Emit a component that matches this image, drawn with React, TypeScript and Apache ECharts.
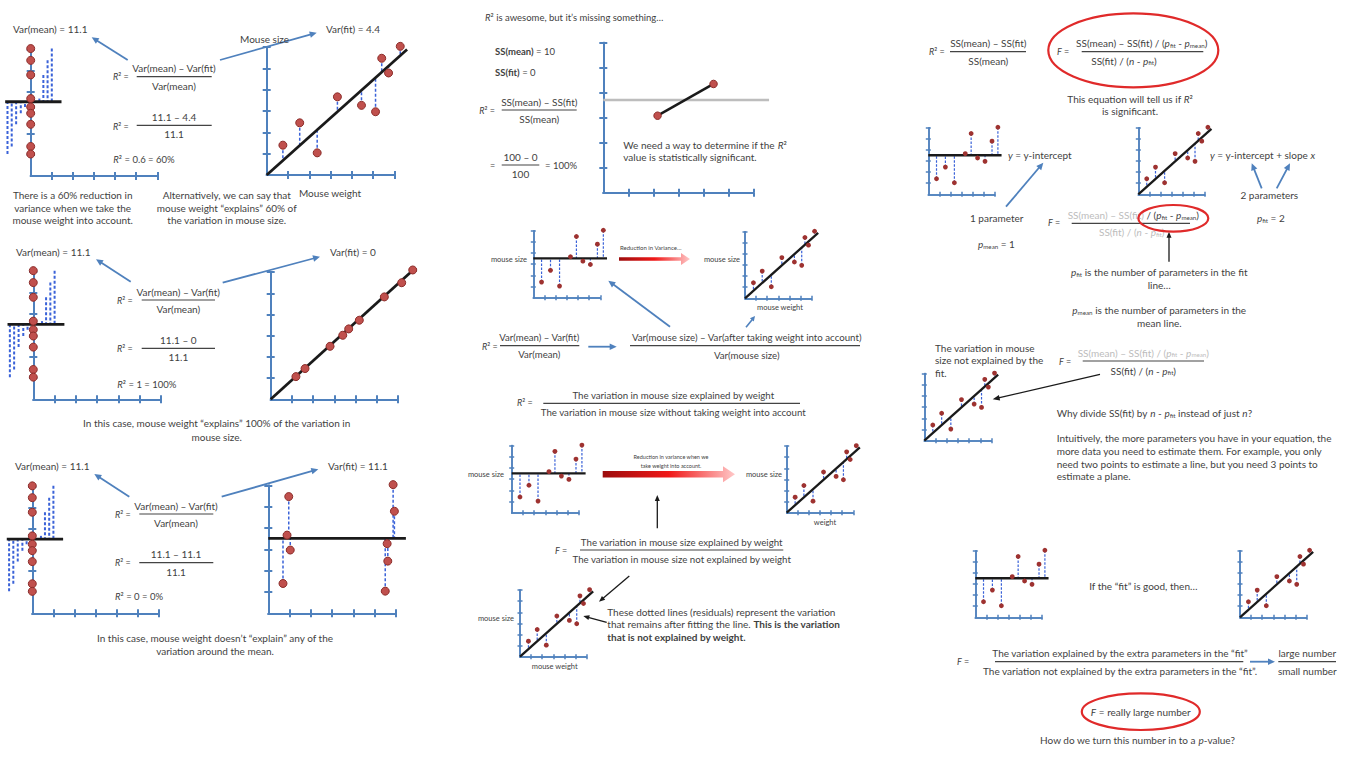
import React, { useEffect, useRef } from "react";
import * as echarts from "echarts";

// ---------------- DATA ----------------
const pointY = [1.40, 2.45, 1.04, 3.67, 5.48, 3.27, 2.97, 4.79, 6.04];
const meanPanelX = [0.74, 1.54, 2.35, 3.33, 3.86, 4.44, 5.11, 5.74, 6.27];
const fitPanelX = [0.76, 1.55, 2.37, 3.32, 5.40, 4.45, 5.11, 5.72, 6.27];
const perfectFitX = [1.62, 2.80, 1.19, 4.18, 6.18, 3.68, 3.40, 5.36, 6.70];
const perfectFitY = [1.45, 2.50, 1.07, 3.73, 5.50, 3.32, 3.02, 4.83, 6.10];
const noFitX = [0.69, 5.61, 5.49, 0.88, 0.96, 5.58, 1.03, 5.92, 5.86];
const varianceBarX = [-0.90, -0.69, -1.10, 0.41, 0.80, -0.27, -0.47, 0.60, 1.00];
const meanLevel = 3.52;
const meanLineX = [0, 6.6];
const noFitMeanLineX = [0, 6.46];
const varLineX = [-1.21, 1.46];
const fitLineEnd = [6.59, 5.89];
const perfectLineEnd = [6.72, 6.10];
const twoPointX = [2.17, 4.41];
const twoPointY = [3.08, 4.35];
const twoMeanLevel = 3.71;
const twoMeanLineX = [0, 6.63];
const tickValues = [1, 2, 3, 4, 5, 6];

// ---------------- LAYOUT ----------------
type Kind = "var" | "fit" | "perfect" | "nofit" | "mean" | "two";
interface Panel { kind: Kind; ox: number; oy: number; u: number; big?: boolean }
const panels: Panel[] = [
  { kind: "var", ox: 30.7, oy: 176, u: 21.1, big: true },
  { kind: "fit", ox: 266.7, oy: 175, u: 21.3, big: true },
  { kind: "var", ox: 33.3, oy: 399.3, u: 21.3, big: true },
  { kind: "perfect", ox: 270.7, oy: 399.3, u: 21.2, big: true },
  { kind: "var", ox: 32.3, oy: 613.3, u: 21.1, big: true },
  { kind: "nofit", ox: 268.3, oy: 613.3, u: 21.3, big: true },
  { kind: "two", ox: 603.3, oy: 192.7, u: 25, big: true },
  { kind: "mean", ox: 533.3, oy: 297.7, u: 11.17 },
  { kind: "fit", ox: 745, oy: 298.3, u: 11.1 },
  { kind: "mean", ox: 511.7, oy: 512.7, u: 11.2 },
  { kind: "fit", ox: 786.7, oy: 512.7, u: 11.1 },
  { kind: "fit", ox: 520, oy: 656.7, u: 11.1 },
  { kind: "mean", ox: 928.3, oy: 194.3, u: 11.1 },
  { kind: "fit", ox: 1138.3, oy: 194.3, u: 11.1 },
  { kind: "fit", ox: 924.3, oy: 440.7, u: 11.2 },
  { kind: "mean", ox: 975.3, oy: 617.3, u: 11.1 },
  { kind: "fit", ox: 1240, oy: 617.3, u: 11.1 },
];

const FONT = "Lato, 'Open Sans', sans-serif";
const TXT = "#3f3f3f";
const GRAY = "#bcbcbc";
const AXIS = "#4f81bd";
const BLUE = "#4f81bd";
const RES = "#3a62d8";
const RED = "#e02a2a";
const BLACK = "#1a1a1a";

function richFor(size: number) {
  const base = { fontSize: size, fontFamily: FONT, fill: TXT };
  const sub = { fontSize: size * 0.62, fontFamily: FONT, fill: TXT, verticalAlign: "bottom" };
  return {
    n: base,
    i: { ...base, fontStyle: "italic" },
    b: { ...base, fontWeight: "bold" },
    s: sub,
    g: { ...base, fill: GRAY },
    gi: { ...base, fill: GRAY, fontStyle: "italic" },
    gs: { ...sub, fill: GRAY },
  };
}

function T(text: string, x: number, y: number, size = 10, align = "left", fill = TXT): any {
  return {
    type: "text", x, y, z: 50, silent: true,
    style: { text, fontSize: size, fontFamily: FONT, fill, align, verticalAlign: "middle", rich: richFor(size) },
  };
}
function L(x1: number, y1: number, x2: number, y2: number, color = "#444", lw = 1.2): any {
  return { type: "line", z: 40, silent: true, shape: { x1, y1, x2, y2 }, style: { stroke: color, lineWidth: lw } };
}
function frac(cx: number, ly: number, x1: number, x2: number, num: string, den: string, size = 10, dcx?: number): any[] {
  return [
    T(num, cx, ly - 8.4, size, "center"),
    L(x1, ly, x2, ly),
    T(den, dcx ?? cx, ly + 9, size, "center"),
  ];
}
function arrow(x1: number, y1: number, x2: number, y2: number, color = BLUE, lw = 1.8, hl = 7, hw = 6.5): any[] {
  const dx = x2 - x1, dy = y2 - y1, len = Math.hypot(dx, dy);
  const ux = dx / len, uy = dy / len;
  const bx = x2 - ux * hl, by = y2 - uy * hl;
  const px = -uy, py = ux;
  return [
    { type: "line", z: 45, silent: true, shape: { x1, y1, x2: bx + ux, y2: by + uy }, style: { stroke: color, lineWidth: lw } },
    {
      type: "polygon", z: 45, silent: true,
      shape: { points: [[x2, y2], [bx + (px * hw) / 2, by + (py * hw) / 2], [bx - (px * hw) / 2, by - (py * hw) / 2]] },
      style: { fill: color },
    },
  ];
}
function gradArrow(x1: number, x2: number, y: number, sh: number, hh: number, hl: number): any {
  const xb = x2 - hl;
  return {
    type: "polygon", z: 45, silent: true,
    shape: {
      points: [[x1, y - sh / 2], [xb, y - sh / 2], [xb, y - hh / 2], [x2, y], [xb, y + hh / 2], [xb, y + sh / 2], [x1, y + sh / 2]],
    },
    style: {
      fill: new echarts.graphic.LinearGradient(0, 0, 1, 0, [
        { offset: 0, color: "#9c0d0d" },
        { offset: 0.5, color: "#f01818" },
        { offset: 1, color: "#ffc8c8" },
      ]),
    },
  };
}
function ellipse(cx: number, cy: number, rx: number, ry: number): any {
  return { type: "ellipse", z: 60, silent: true, shape: { cx, cy, rx, ry }, style: { fill: "none", stroke: RED, lineWidth: 2.2 } };
}

function segSeries(data: number[][], style: any, ai: number, z: number): any {
  return {
    type: "custom", coordinateSystem: "cartesian2d", xAxisIndex: ai, yAxisIndex: ai, z, silent: true, clip: false,
    data,
    renderItem: (_p: any, api: any) => {
      const a = api.coord([api.value(0), api.value(1)]);
      const b = api.coord([api.value(2), api.value(3)]);
      return { type: "line", shape: { x1: a[0], y1: a[1], x2: b[0], y2: b[1] }, style };
    },
  };
}
function dotSeries(xs: number[], ys: number[], ai: number, size: number, big: boolean): any {
  return {
    type: "scatter", xAxisIndex: ai, yAxisIndex: ai, z: 6, silent: true, clip: false,
    data: xs.map((x, k) => [x, ys[k]]),
    symbolSize: size,
    itemStyle: big ? { color: "#c0504d", borderColor: "#8c2d2a", borderWidth: 1, opacity: 1 } : { color: "#9e3230", opacity: 1 },
  };
}

function buildOption(): any {
  const grid: any[] = [], xAxis: any[] = [], yAxis: any[] = [], series: any[] = [];
  panels.forEach((p, i) => {
    const size = 6 * p.u;
    grid.push({ left: p.ox, top: p.oy - size, width: size, height: size });
    const lw = p.big ? 2 : 1.5;
    const tl = p.big ? 4 : 2.5;
    [false, true].forEach((inside) => {
      const common = {
        type: "value", gridIndex: i, min: 0, max: 6, interval: 1,
        axisLine: { show: true, onZero: false, lineStyle: { color: AXIS, width: lw } },
        axisTick: { show: true, inside, length: tl, customValues: tickValues, lineStyle: { color: AXIS, width: lw } },
        axisLabel: { show: false }, splitLine: { show: false },
      };
      xAxis.push({ ...common, position: "bottom" });
      yAxis.push({ ...common, position: "left" });
    });
    const ai = 2 * i;
    const resStyle = p.big
      ? { stroke: RES, lineWidth: p.kind === "var" ? 2 : 1.5, lineDash: [3, 2] }
      : { stroke: RES, lineWidth: 1.2, lineDash: [2.5, 1.5] };
    const blackStyle = { stroke: BLACK, lineWidth: p.big ? 2.8 : 2.3 };
    const dotSize = p.big ? 8 : 4.8;
    if (p.kind === "var") {
      series.push(segSeries(varianceBarX.map((x, k) => [x, pointY[k], x, meanLevel]), resStyle, ai, 2));
      series.push(segSeries([[varLineX[0], meanLevel, varLineX[1], meanLevel]], blackStyle, ai, 3));
      series.push(dotSeries(pointY.map(() => 0), pointY, ai, dotSize, true));
    } else if (p.kind === "fit") {
      const slope = fitLineEnd[1] / fitLineEnd[0];
      series.push(segSeries(fitPanelX.map((x, k) => [x, pointY[k], x, x * slope]), resStyle, ai, 2));
      series.push(segSeries([[0, 0, fitLineEnd[0], fitLineEnd[1]]], blackStyle, ai, 3));
      series.push(dotSeries(fitPanelX, pointY, ai, dotSize, !!p.big));
    } else if (p.kind === "mean") {
      series.push(segSeries(meanPanelX.map((x, k) => [x, pointY[k], x, meanLevel]), resStyle, ai, 2));
      series.push(segSeries([[meanLineX[0], meanLevel, meanLineX[1], meanLevel]], blackStyle, ai, 3));
      series.push(dotSeries(meanPanelX, pointY, ai, dotSize, false));
    } else if (p.kind === "perfect") {
      series.push(segSeries([[0, 0, perfectLineEnd[0], perfectLineEnd[1]]], blackStyle, ai, 3));
      series.push(dotSeries(perfectFitX, perfectFitY, ai, dotSize, true));
    } else if (p.kind === "nofit") {
      series.push(segSeries(noFitX.map((x, k) => [x, pointY[k], x, meanLevel]), resStyle, ai, 2));
      series.push(segSeries([[noFitMeanLineX[0], meanLevel, noFitMeanLineX[1], meanLevel]], blackStyle, ai, 3));
      series.push(dotSeries(noFitX, pointY, ai, dotSize, true));
    } else if (p.kind === "two") {
      series.push(segSeries([[twoMeanLineX[0], twoMeanLevel, twoMeanLineX[1], twoMeanLevel]], { stroke: "#bdbdbd", lineWidth: 2.5 }, ai, 2));
      series.push(segSeries([[twoPointX[0], twoPointY[0], twoPointX[1], twoPointY[1]]], { stroke: BLACK, lineWidth: 2.5 }, ai, 3));
      series.push(dotSeries(twoPointX, twoPointY, ai, 7.5, true));
    }
  });

  const R2 = "{i|R}² =";
  const pfit = "{i|p}{s|fit}";
  const pmean = "{i|p}{s|mean}";
  const g: any[] = [];
  const add = (...els: any[]) => els.forEach((e) => (Array.isArray(e) ? g.push(...e) : g.push(e)));

  // ---- Column 1, row 1
  add(T("Var(mean) = 11.1", 13, 29), T("Var(fit) = 4.4", 326, 29), T("Mouse size", 264.5, 39, 10, "center"));
  add(arrow(127.7, 60, 91.7, 37.3), arrow(220, 60, 316.7, 32.7));
  add(T(R2, 113, 76.7, 9), frac(174, 76.7, 136.7, 211.7, "Var(mean) – Var(fit)", "Var(mean)"));
  add(T(R2, 113, 126, 9), frac(174, 125.3, 136.7, 211.7, "11.1 – 4.4", "11.1"));
  add(T("{i|R}² = 0.6 = 60%", 113.3, 159.3, 9.5));
  add(T("There is a 60% reduction in", 72.7, 195, 10, "center"), T("variance when we take the", 72.7, 207.7, 10, "center"), T("mouse weight into account.", 72.7, 220.4, 10, "center"));
  add(T("Alternatively, we can say that", 226.7, 195, 10, "center"), T("mouse weight “explains” 60% of", 226.7, 207.7, 10, "center"), T("the variation in mouse size.", 226.7, 220.4, 10, "center"));
  add(T("Mouse weight", 330, 192.7, 10, "center"));

  // ---- Column 1, row 2
  add(T("Var(mean) = 11.1", 16, 252.3), T("Var(fit) = 0", 330, 252.3));
  add(arrow(130.7, 281.7, 96, 259.3), arrow(222.7, 282.7, 320, 256.7));
  add(T(R2, 117, 300, 9), frac(178.3, 300, 141.7, 215, "Var(mean) – Var(fit)", "Var(mean)"));
  add(T(R2, 117, 348.3, 9), frac(178.3, 348.3, 141.7, 215, "11.1 – 0", "11.1"));
  add(T("{i|R}² = 1 = 100%", 117.3, 384, 9.5));
  add(T("In this case, mouse weight “explains” 100% of the variation in", 216.7, 423.3, 10, "center"), T("mouse size.", 216.7, 436.7, 10, "center"));

  // ---- Column 1, row 3
  add(T("Var(mean) = 11.1", 15, 466), T("Var(fit) = 11.1", 328, 466));
  add(arrow(129.3, 496.7, 94.3, 474), arrow(221.7, 496.7, 318.3, 469.3));
  add(T(R2, 115, 514, 9), frac(176, 514, 139.3, 213.3, "Var(mean) – Var(fit)", "Var(mean)"));
  add(T(R2, 115, 562.7, 9), frac(176, 562.7, 139.3, 213.3, "11.1 – 11.1", "11.1"));
  add(T("{i|R}² = 0 = 0%", 115, 596.7, 9.5));
  add(T("In this case, mouse weight doesn’t “explain” any of the", 215, 637.7, 10, "center"), T("variation around the mean.", 215, 651, 10, "center"));

  // ---- Column 2, top
  add(T("{i|R}² is awesome, but it’s missing something…", 485, 17.3, 9.5));
  add(T("{b|SS(mean)} = 10", 495, 51.7, 9.5), T("{b|SS(fit)} = 0", 495, 72.7, 9.5));
  add(T(R2, 479.3, 110, 9), frac(539.3, 110, 501.7, 576.7, "SS(mean) – SS(fit)", "SS(mean)"));
  add(T("=", 492.7, 165, 9, "center"), frac(520.5, 165, 501.7, 539.3, "100 – 0", "100"), T("= 100%", 545, 165, 9.5));
  add(T("We need a way to determine if the {i|R}²", 623.3, 145), T("value is statistically significant.", 623.3, 157.3));

  // ---- Column 2, row 2
  add(T("mouse size", 527, 259, 7.5, "right"), T("mouse size", 740, 259, 7.5, "right"), T("mouse weight", 780, 307.7, 7.5, "center"));
  add(gradArrow(619, 690, 259, 3.5, 12, 9), T("Reduction in Variance…", 620, 247, 6));
  add(arrow(670, 326.7, 608.3, 280.7), arrow(746, 327.3, 755, 316, BLUE, 1.6, 5, 5));
  add(T(R2, 482, 346.7, 9), frac(539.3, 345.7, 500, 579.3, "Var(mean) – Var(fit)", "Var(mean)", 9.6));
  add(arrow(588.3, 346.7, 616.7, 346.7));
  add(frac(746.7, 345.7, 630, 860, "Var(mouse size) – Var(after taking weight into account)", "Var(mouse size)", 9.7));
  add(T(R2, 517, 402.7, 9), frac(673.3, 403.3, 543.3, 800, "The variation in mouse size explained by weight", "The variation in mouse size without taking weight into account", 9.7));

  // ---- Column 2, row 3
  add(T("mouse size", 504, 474.3, 7.5, "right"), T("mouse size", 782, 474.3, 7.5, "right"), T("weight", 825, 522.7, 7.5, "center"));
  add(gradArrow(602.7, 735, 474.3, 6.5, 16, 12));
  add(T("Reduction in variance when we", 671, 457.3, 5.5, "center"), T("take weight into account.", 671, 466, 5.5, "center"));
  add(arrow(657.3, 528.3, 657.3, 495, BLACK, 1.3, 6, 5));
  add(T("{i|F} =", 555, 550, 9), frac(681.7, 550, 580, 783.3, "The variation in mouse size explained by weight", "The variation in mouse size not explained by weight", 9.7));
  add(arrow(629.3, 576, 599, 601.7, BLACK, 1.3, 6, 5));
  add(T("mouse size", 514, 618.3, 7.5, "right"), T("mouse weight", 554.7, 666.7, 7.5, "center"));
  add(arrow(606.7, 622.3, 583.3, 616, BLACK, 1.3, 6, 5));
  add(T("These dotted lines (residuals) represent the variation", 607.3, 611.7));
  add(T("that remains after fitting the line. {b|This is the variation}", 607.3, 624.2));
  add(T("{b|that is not explained by weight.}", 607.3, 636.7));

  // ---- Column 3, top
  add(T(R2, 929, 51.7, 9), frac(988.3, 51.7, 950, 1026, "SS(mean) – SS(fit)", "SS(mean)"));
  add(ellipse(1133.3, 50.3, 85, 37));
  add(T("{i|F} =", 1057, 51.7, 9), frac(1141.7, 51.7, 1081.7, 1203.3, `SS(mean) – SS(fit) / (${pfit} - ${pmean})`, `SS(fit) / ({i|n} - ${pfit})`, 10, 1124));
  add(T("This equation will tell us if {i|R}²", 1130, 99, 10, "center"), T("is significant.", 1130, 111.3, 10, "center"));
  add(T("{i|y} = y-intercept", 1008, 155), T("{i|y} = y-intercept + slope {i|x}", 1210, 155));
  add(arrow(1006, 206.7, 1043.3, 162.7), T("1 parameter", 996.7, 218.3, 10, "center"));
  add(arrow(1261.7, 188.3, 1251.7, 163.3), arrow(1276.7, 188.3, 1290, 163.3), T("2 parameters", 1269.3, 195, 10, "center"));
  add(T("{i|F} =", 1048, 222.7, 9));
  add(
    T(`{g|SS(mean) – SS(fit)} / (${pfit} - ${pmean})`, 1133.3, 215, 10, "center"),
    L(1071.7, 223.3, 1190, 223.3),
    T("{g|SS(fit) / (}{gi|n}{g| - }{gi|p}{gs|fit}{g|)}", 1131.7, 232.3, 10, "center"),
  );
  add(ellipse(1173.3, 218.3, 35, 13.3));
  add(T(`${pfit} = 2`, 1257, 218.3), T(`${pmean} = 1`, 978, 244));
  add(arrow(1169, 261.7, 1169, 231.7, BLACK, 1.3, 6, 5));
  add(T(`${pfit} is the number of parameters in the fit`, 1159.3, 272.3, 10, "center"), T("line…", 1159.3, 285, 10, "center"));
  add(T(`${pmean} is the number of parameters in the`, 1159.3, 310, 10, "center"), T("mean line.", 1159.3, 322.7, 10, "center"));
  add(T("The variation in mouse", 935, 347.7), T("size not explained by the", 935, 360), T("fit.", 935, 372.7));
  add(T("{i|F} =", 1059, 361, 9));
  add(
    T("{g|SS(mean) – SS(fit) / (}{gi|p}{gs|fit}{g| - }{gi|p}{gs|mean}{g|)}", 1143.3, 352.6, 10, "center"),
    L(1082.7, 361, 1204, 361),
    T(`SS(fit) / ({i|n} - ${pfit})`, 1143.3, 370.5, 10, "center"),
  );
  add(arrow(1100, 374.3, 992.7, 399.3, BLACK, 1.3, 7, 5.5));
  add(T(`Why divide SS(fit) by {i|n} - ${pfit} instead of just {i|n}?`, 1056.7, 413.3));
  add(
    T("Intuitively, the more parameters you have in your equation, the", 1056.7, 438.3),
    T("more data you need to estimate them. For example, you only", 1056.7, 451),
    T("need two points to estimate a line, but you need 3 points to", 1056.7, 463.5),
    T("estimate a plane.", 1056.7, 476),
  );

  // ---- Column 3, bottom
  add(T("If the “fit” is good, then…", 1143.3, 585.7, 10, "center"));
  add(T("{i|F} =", 957, 661.7, 9));
  add(frac(1120, 661.7, 995, 1243.3, "The variation explained by the extra parameters in the “fit”", "The variation not explained by the extra parameters in the “fit”."));
  add(arrow(1250, 661.7, 1275, 661.7));
  add(frac(1307.3, 661.7, 1278.3, 1336, "large number", "small number"));
  add(ellipse(1140.8, 711.7, 59, 18.3), T("{i|F} = really large number", 1140.8, 712, 10, "center"));
  add(T("How do we turn this number in to a {i|p}-value?", 1137.3, 740, 10, "center"));

  return {
    animation: false,
    backgroundColor: "#ffffff",
    grid, xAxis, yAxis, series,
    graphic: { elements: g },
  };
}

export default function App() {
  const ref = useRef<HTMLDivElement>(null);
  useEffect(() => {
    if (!ref.current) return;
    const chart = echarts.init(ref.current, undefined, { renderer: "svg" });
    chart.setOption(buildOption());
    return () => chart.dispose();
  }, []);
  return <div ref={ref} style={{ position: "absolute", left: 0, top: 0, width: 1350, height: 760 }} />;
}
